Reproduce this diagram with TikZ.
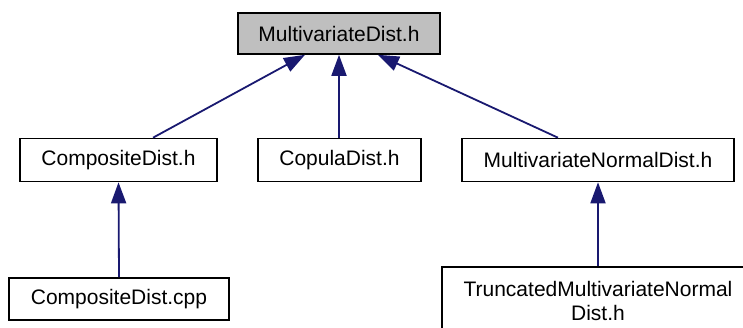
\documentclass[tikz,border=0pt]{standalone}
\usepackage{fontspec}
\setmainfont{Liberation Sans}
\usetikzlibrary{arrows.meta,calc}
\definecolor{edgeblue}{HTML}{191970}
\definecolor{rootgray}{HTML}{BFBFBF}
\begin{document}
\begin{tikzpicture}[x=1pt,y=-1pt,
  box/.style={draw=black,line width=1.6pt,fill=white,inner sep=0pt,font=\fontsize{21}{23}\selectfont,anchor=center},
  edge/.style={draw=edgeblue,line width=1.8pt,-{Triangle[length=21pt,width=15pt]}}]
\useasboundingbox (0,0) rectangle (743,327);
\begin{scope}
\clip (0,0) rectangle (743,327);
\node[box,fill=rootgray,minimum width=202pt,minimum height=41pt] (md) at (339,33.5) {MultivariateDist.h};
\node[box,minimum width=197pt,minimum height=43pt] (cd) at (118.5,160) {CompositeDist.h};
\node[box,minimum width=163pt,minimum height=43pt] (cop) at (339.5,160) {CopulaDist.h};
\node[box,minimum width=272pt,minimum height=43pt] (mnd) at (598,160) {MultivariateNormalDist.h};
\node[box,minimum width=220pt,minimum height=42pt] (cdc) at (119,299) {CompositeDist.cpp};
\node[box,minimum width=312pt,minimum height=68pt,align=center,font=\fontsize{21}{24}\selectfont] (tr) at (598,301) {TruncatedMultivariateNormal\\Dist.h};
\end{scope}
\draw[edge] ($(cd.north)+(34.5,0)$) -- ($(md.south)+(-34,0)$);
\draw[edge] (cop.north -| md.south) -- (md.south);
\draw[edge] ($(mnd.north)+(-40,0)$) -- ($(md.south)+(39,0)$);
\draw[edge] (cdc.north) -- (cd.south);
\draw[edge] (tr.north) -- (mnd.south);
\end{tikzpicture}
\end{document}
